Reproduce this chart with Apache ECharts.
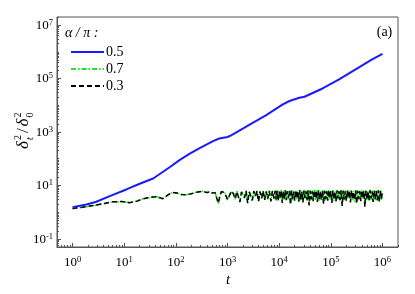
<!DOCTYPE html>
<html><head><meta charset="utf-8">
<script src="https://cdn.jsdelivr.net/npm/echarts@6/dist/echarts.min.js"></script>
<style>html,body{margin:0;padding:0;background:#fff}#c{width:415px;height:294px}</style>
</head><body><div id="c"></div>
<script>
// ---- data ----
const seriesNames = ['0.5', '0.7', '0.3'];
// alpha/pi = 0.5 : log10(t) and delta_t^2/delta_0^2
const blueLogT = [0, 0.27, 0.46, 0.72, 1.04, 1.30, 1.56, 1.88, 2.07, 2.27, 2.46, 2.72, 2.84, 3.00, 3.07, 3.23, 3.42, 3.75, 4.07, 4.20, 4.39, 4.49, 4.84, 5.16, 5.48, 5.80, 6.00];
const blueVal = [1.55, 1.95, 2.46, 3.98, 7.1, 11.6, 18.3, 48, 89, 155, 251, 454, 573, 650, 745, 1120, 1860, 4266, 10720, 14450, 19050, 20800, 42460, 92260, 218300, 516400, 843700];
// alpha/pi = 0.7 and 0.3 share the same time grid (log10 t)
const noiseLogT = [
  0, 0.15, 0.3, 0.45, 0.6, 0.78, 0.95, 1.1, 1.25, 1.36, 1.5, 1.62, 1.75, 1.85, 1.94, 2.02, 2.1, 2.2, 2.3, 2.4, 2.52, 2.6, 2.66,
  2.70,2.73,2.76,2.79,2.82,2.85,2.88,2.91,2.94,2.97,3.00,3.03,3.06,3.09,3.12,3.15,3.18,3.21,3.24,3.27,3.30,3.33,3.36,3.39,3.42,3.45,3.48,3.51,3.54,3.57,3.60,3.63,3.66,3.69,3.72,3.75,3.78,3.81,3.84,3.87,3.90,
  3.92,3.94,3.96,3.98,4.00,4.02,4.04,4.06,4.08,4.10,
  4.12,4.14,4.16,4.18,4.20,4.22,4.24,4.26,4.28,4.30,
  4.32,4.34,4.36,4.38,4.40,4.42,4.44,4.46,4.48,4.50,
  4.52,4.54,4.56,4.58,4.60,4.62,4.64,4.66,4.68,4.70,
  4.72,4.74,4.76,4.78,4.80,4.82,4.84,4.86,4.88,4.90,
  4.92,4.94,4.96,4.98,5.00,5.02,5.04,5.06,5.08,5.10,
  5.12,5.14,5.16,5.18,5.20,5.22,5.24,5.26,5.28,5.30,
  5.32,5.34,5.36,5.38,5.40,5.42,5.44,5.46,5.48,5.50,
  5.52,5.54,5.56,5.58,5.60,5.62,5.64,5.66,5.68,5.70,
  5.72,5.74,5.76,5.78,5.80,5.82,5.84,5.86,5.88,5.90,
  5.92,5.94,5.96,5.98,6.00
];
const greenVal = [
  1.36, 1.48, 1.63, 1.83, 2.08, 2.42, 2.48, 2.3, 2.62, 3.1, 3.55, 3.85, 3.25, 4.45, 5.45, 5.25, 4.65, 4.45, 4.95, 5.55, 6.05, 5.45, 5.85,
  5.4,4.8,5.6,3.3,2.1,3.9,6.0,6.3,5.7,4.6,2.8,2.7,5.5,6.5,5.6,3.0,6.2,6.4,2.5,5.9,6.3,3.3,6.6,2.3,6.1,6.3,2.6,6.5,3.8,6.4,2.6,6.2,3.2,6.6,2.7,6.3,3.0,6.5,2.5,6.4,3.1,
  6.6,2.7,6.5,2.9,6.2,3.0,6.8,2.5,6.3,2.8,
  6.9,3.1,6.3,3.0,6.7,2.2,6.5,2.8,6.2,3.0,
  6.8,2.9,6.6,2.7,6.9,2.6,6.3,2.5,6.7,3.0,
  6.5,2.6,6.8,2.1,6.6,2.8,6.4,2.9,6.9,2.9,
  6.6,2.6,6.7,2.7,6.2,3.0,6.8,2.3,6.6,2.8,
  6.4,2.9,6.9,3.0,6.5,2.5,6.7,2.7,6.3,2.7,
  6.8,2.9,6.4,2.6,6.9,2.0,6.6,2.8,6.4,2.8,
  6.7,3.1,6.5,2.6,6.8,2.7,6.2,2.5,6.9,2.4,
  6.6,2.8,6.4,2.8,6.8,3.0,6.5,1.9,6.7,2.7,
  6.5,2.9,6.9,2.9,6.3,2.6,6.8,2.8,6.5,2.6,
  6.7,2.7,6.6,2.9,6.3
];
const blackVal = [
  1.38, 1.5, 1.65, 1.85, 2.1, 2.45, 2.5, 2.28, 2.6, 3.15, 3.6, 3.8, 3.2, 4.5, 5.5, 5.2, 4.6, 4.5, 4.9, 5.6, 6.1, 5.4, 5.9,
  5.2,4.6,5.4,3.5,2.2,3.8,5.8,6.0,5.5,4.8,3.0,2.6,5.2,6.2,5.4,3.2,5.9,6.1,2.4,5.6,6.0,3.5,6.3,2.2,5.8,6.0,2.8,6.2,4.0,6.1,2.5,5.9,3.4,6.3,2.9,6.0,3.2,6.2,2.6,6.1,3.3,
  6.2,3.0,6.4,2.6,5.9,3.4,6.5,2.2,6.1,3.1,
  6.6,2.8,6.0,3.5,6.3,1.9,6.4,3.2,5.8,2.7,
  6.5,3.3,6.2,2.5,6.6,3.0,5.9,2.3,6.4,3.4,
  6.1,2.9,6.5,1.8,6.3,3.1,6.0,2.6,6.6,3.3,
  6.2,2.4,6.4,3.0,5.8,2.8,6.5,2.0,6.3,3.2,
  6.0,2.7,6.6,3.4,6.2,2.2,6.4,3.0,5.9,2.5,
  6.5,3.3,6.1,2.9,6.6,1.7,6.3,3.1,6.0,2.6,
  6.4,3.5,6.2,2.3,6.5,3.0,5.8,2.8,6.6,2.1,
  6.3,3.2,6.0,2.6,6.5,3.4,6.2,1.6,6.4,3.0,
  6.1,2.7,6.6,3.3,5.9,2.4,6.5,3.1,6.2,2.9,
  6.4,2.5,6.3,3.2,6.0
];
const xMajorTicks = [1, 10, 100, 1e3, 1e4, 1e5, 1e6];
const yMajorTicks = [0.1, 10, 1e3, 1e5, 1e7];

// ---- helpers (axis minor ticks: k x 10^n, excluding labelled majors) ----
function minorTicks(nFrom, nTo, lo, hi, majors) {
  const out = [];
  for (let n = nFrom; n <= nTo; n++) {
    for (let k = 1; k <= 9; k++) {
      const v = k * Math.pow(10, n);
      if (v >= lo * 0.999 && v <= hi * 1.001 && majors.indexOf(+v.toPrecision(6)) < 0) out.push(v);
    }
  }
  return out;
}
const X_MIN = 0.5, X_MAX = 2e6, Y_MIN = 0.05, Y_MAX = 2e7;
const xMinor = minorTicks(-1, 6, X_MIN, X_MAX, xMajorTicks);
const yMinor = minorTicks(-2, 7, Y_MIN, Y_MAX, yMajorTicks);

const FONT = '"Liberation Serif", "Times New Roman", serif';
const AX = '#555';
const labelRich = {
  b: { fontFamily: FONT, fontSize: 13, color: '#000', lineHeight: 14, verticalAlign: 'bottom' },
  s: { fontFamily: FONT, fontSize: 8.5, color: '#000', lineHeight: 9, verticalAlign: 'top', padding: [0, 0, 6, 0] }
};
function powLabel(v) {
  const e = Math.round(Math.log10(v));
  return '{b|10}{s|' + (e < 0 ? '-' + (-e) : e) + '}';
}

const pairs = (lt, vals) => lt.map((e, i) => [Math.pow(10, e), vals[i]]);

const chart = echarts.init(document.getElementById('c'), null, { renderer: 'canvas' });
chart.setOption({
  animation: false,
  backgroundColor: '#fff',
  grid: { left: 57, right: 17, top: 17, bottom: 47, show: true, borderColor: AX, borderWidth: 1, backgroundColor: 'transparent' },
  xAxis: [
    { type: 'log', logBase: 10, min: X_MIN, max: X_MAX, position: 'bottom',
      axisLine: { show: true, lineStyle: { color: AX, width: 1 } },
      axisTick: { show: true, inside: true, length: 4, customValues: xMajorTicks, lineStyle: { color: AX } },
      axisLabel: { show: true, customValues: xMajorTicks, margin: 8, fontFamily: FONT, formatter: powLabel, rich: labelRich },
      splitLine: { show: false }, minorTick: { show: false } },
    { type: 'log', logBase: 10, min: X_MIN, max: X_MAX, position: 'bottom',
      axisLine: { show: false },
      axisTick: { show: true, inside: true, length: 2, customValues: xMinor, lineStyle: { color: AX } },
      axisLabel: { show: false }, splitLine: { show: false } }
  ],
  yAxis: [
    { type: 'log', logBase: 10, min: Y_MIN, max: Y_MAX, position: 'left',
      axisLine: { show: true, lineStyle: { color: AX, width: 1 } },
      axisTick: { show: true, inside: true, length: 4, customValues: yMajorTicks, lineStyle: { color: AX } },
      axisLabel: { show: true, customValues: yMajorTicks, margin: 4, fontFamily: FONT, formatter: powLabel, rich: labelRich },
      splitLine: { show: false }, minorTick: { show: false } },
    { type: 'log', logBase: 10, min: Y_MIN, max: Y_MAX, position: 'left',
      axisLine: { show: false },
      axisTick: { show: true, inside: true, length: 2, customValues: yMinor, lineStyle: { color: AX } },
      axisLabel: { show: false }, splitLine: { show: false } }
  ],
  legend: {
    orient: 'vertical', left: 65, top: 40, itemWidth: 33, itemHeight: 10, itemGap: 3,
    itemStyle: { opacity: 0 },
    textStyle: { fontFamily: FONT, fontSize: 14, color: '#000', padding: [0, 0, 0, -3] },
    data: seriesNames
  },
  series: [
    { name: seriesNames[0], type: 'line', symbol: 'none', data: pairs(blueLogT, blueVal),
      lineStyle: { color: '#1a1aff', width: 2 }, itemStyle: { color: '#1a1aff' }, z: 4 },
    { name: seriesNames[1], type: 'line', symbol: 'none', data: pairs(noiseLogT, greenVal),
      lineStyle: { color: '#22e622', width: 1.5, type: [5, 2, 1.5, 2] }, itemStyle: { color: '#22e622' }, z: 2 },
    { name: seriesNames[2], type: 'line', symbol: 'none', data: pairs(noiseLogT, blackVal),
      lineStyle: { color: '#000', width: 1.5, type: [5, 3] }, itemStyle: { color: '#000' }, z: 3 }
  ],
  graphic: [
    { type: 'text', x: 65, y: 33, style: { text: 'α / π :', fontFamily: FONT, fontStyle: 'italic', fontSize: 14, fill: '#000', align: 'left', verticalAlign: 'middle', textAlign: 'left', textVerticalAlign: 'middle' } },
    { type: 'text', x: 384.5, y: 32, style: { text: '(a)', fontFamily: FONT, fontSize: 14, fill: '#000', align: 'center', verticalAlign: 'middle', textAlign: 'center', textVerticalAlign: 'middle' } },
    { type: 'text', x: 228, y: 280, style: { text: 't', fontFamily: FONT, fontStyle: 'italic', fontSize: 15, fill: '#000', align: 'center', verticalAlign: 'middle', textAlign: 'center', textVerticalAlign: 'middle' } },
    { type: 'group', x: 24, y: 149, rotation: Math.PI / 2, children: [
      { type: 'text', x: 0, y: 0, style: { text: 'δ', fontFamily: FONT, fontStyle: 'italic', fontSize: 17, fill: '#000', align: 'left', verticalAlign: 'middle', textAlign: 'left', textVerticalAlign: 'middle' } },
      { type: 'text', x: 9, y: -6, style: { text: '2', fontFamily: FONT, fontSize: 10, fill: '#000', align: 'left', verticalAlign: 'middle', textAlign: 'left', textVerticalAlign: 'middle' } },
      { type: 'text', x: 9, y: 6, style: { text: 't', fontFamily: FONT, fontStyle: 'italic', fontSize: 10, fill: '#000', align: 'left', verticalAlign: 'middle', textAlign: 'left', textVerticalAlign: 'middle' } },
      { type: 'text', x: 16, y: 0, style: { text: '/', fontFamily: FONT, fontSize: 17, fill: '#000', align: 'left', verticalAlign: 'middle', textAlign: 'left', textVerticalAlign: 'middle' } },
      { type: 'text', x: 22.5, y: 0, style: { text: 'δ', fontFamily: FONT, fontStyle: 'italic', fontSize: 17, fill: '#000', align: 'left', verticalAlign: 'middle', textAlign: 'left', textVerticalAlign: 'middle' } },
      { type: 'text', x: 31.5, y: -6, style: { text: '2', fontFamily: FONT, fontSize: 10, fill: '#000', align: 'left', verticalAlign: 'middle', textAlign: 'left', textVerticalAlign: 'middle' } },
      { type: 'text', x: 31.5, y: 6, style: { text: '0', fontFamily: FONT, fontSize: 10, fill: '#000', align: 'left', verticalAlign: 'middle', textAlign: 'left', textVerticalAlign: 'middle' } }
    ] }
  ]
});
</script></body></html>
